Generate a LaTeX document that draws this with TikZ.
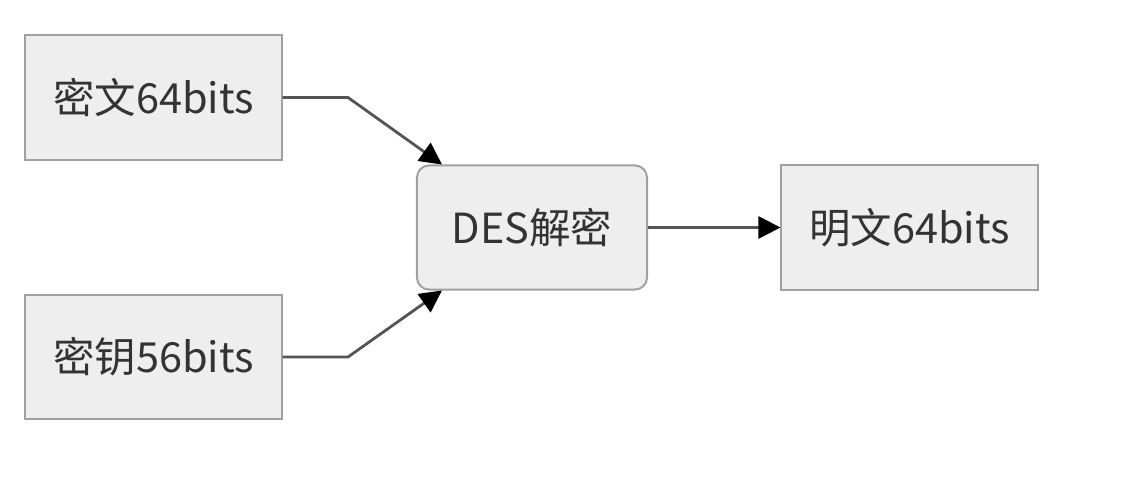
\documentclass[tikz,border=0pt]{standalone}
\usepackage{fontspec}
\setmainfont{Noto Sans CJK SC}
\usepackage{tikz}
\usetikzlibrary{positioning,arrows.meta,calc}
\definecolor{boxfill}{RGB}{238,238,238}
\definecolor{boxline}{RGB}{160,160,160}
\definecolor{wire}{RGB}{85,85,85}

\begin{document}
\begin{tikzpicture}[
  x=0.025cm, y=-0.025cm,
  every node/.style={font=\fontsize{29.5}{34}\selectfont, text=black!80},
  blk/.style={rectangle, draw=boxline, fill=boxfill, line width=1.4pt,
              minimum width=6.4cm, minimum height=3.1cm, inner sep=0pt},
  proc/.style={blk, rounded corners=0.3cm, minimum width=5.75cm},
  wire/.style={draw=wire, line width=2pt,
               -{Triangle[length=0.55cm,width=0.55cm,color=black]}}
]
  \useasboundingbox (0,0) rectangle (1126,486);

  \node[blk]  (cipher) at (153.5,97.5) {密文64bits};
  \node[blk]  (key)    at (153.5,357)  {密钥56bits};
  \node[proc] (des)    at (532,227.5)  {DES解密};
  \node[blk]  (plain)  at (909.5,227.5) {明文64bits};

  \coordinate (cbend) at (348,97.5);
  \coordinate (kbend) at (348,357);

  \draw[wire] (cipher.east) -- (cbend) -- ([xshift=0.65cm]des.north west);
  \draw[wire] (key.east)    -- (kbend) -- ([xshift=0.65cm]des.south west);
  \draw[wire] (des) -- (plain);
\end{tikzpicture}
\end{document}
